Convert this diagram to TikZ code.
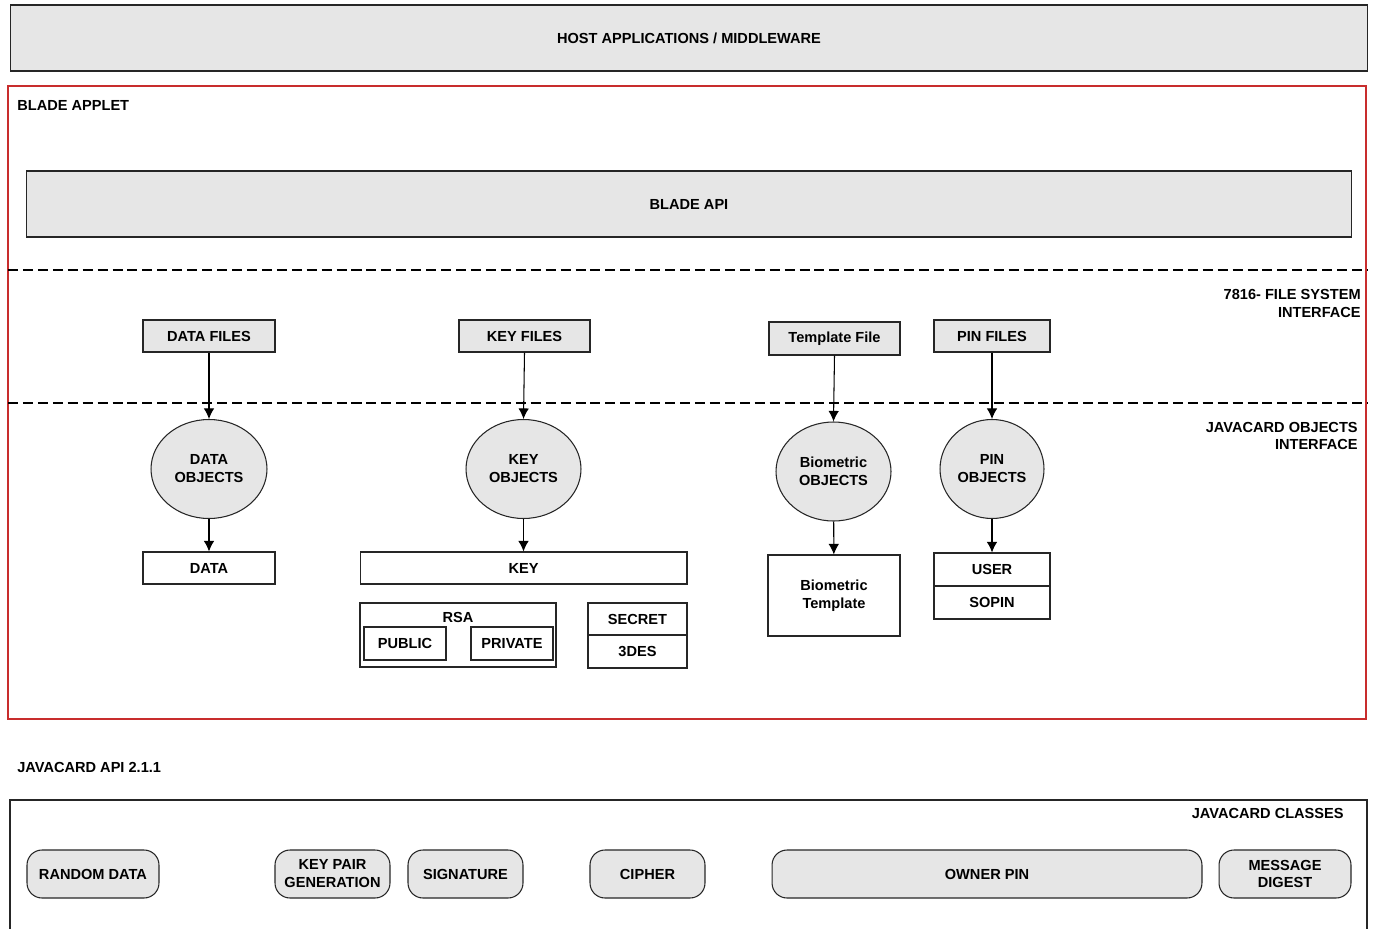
\documentclass[tikz,border=0pt]{standalone}
\usepackage{fontspec}
\setmainfont{Liberation Sans}
\usetikzlibrary{arrows.meta,shapes.geometric}
\definecolor{boxgray}{RGB}{230,230,230}
\definecolor{appletred}{RGB}{200,45,45}
\begin{document}
\begin{tikzpicture}[x=0.02cm,y=-0.02cm,
		every node/.style={font=\fontsize{8.3}{10.2}\selectfont\bfseries, align=center, inner sep=0pt},
		graybox/.style={draw=black!85, fill=boxgray, line width=0.6pt},
		plainbox/.style={draw=black!85, line width=0.6pt},
		objell/.style={ellipse, draw=black!85, fill=boxgray, line width=0.6pt, minimum height=1.98cm},
		classbox/.style={rounded corners=0.3cm, draw=black!85, fill=boxgray, line width=0.6pt, minimum height=0.96cm},
		link/.style={-{Latex[length=6pt,width=6pt]}, line width=0.6pt}]
			\useasboundingbox (0,0) rectangle (1375,929);
			% top layers
			\node[graybox, minimum width=27.16cm, minimum height=1.32cm] (host) at (689,38) {HOST APPLICATIONS / MIDDLEWARE};
			\draw[appletred, line width=0.6pt] (8,86) rectangle (1366,719);
			\node[anchor=west] (applet) at (17,105) {BLADE APPLET};
			\node[graybox, minimum width=26.52cm, minimum height=1.32cm] (api) at (689,204) {BLADE API};
			% interface lines
			\draw[dash pattern=on 5.7pt off 2.8pt, line width=0.6pt] (8,270) -- (1368,270);
			\draw[dash pattern=on 5.7pt off 2.8pt, line width=0.6pt] (8,403) -- (1368,403);
			\node[anchor=east, align=right] (fsif) at (1361,303.5) {7816- FILE SYSTEM\\INTERFACE};
			\node[anchor=east, align=right] (objif) at (1358,436) {JAVACARD OBJECTS\\INTERFACE};
			% files
			\node[graybox, minimum width=2.64cm, minimum height=0.64cm] (datafiles) at (209,336) {DATA FILES};
			\node[graybox, minimum width=2.62cm, minimum height=0.64cm] (keyfiles) at (524.5,336) {KEY FILES};
			\node[graybox, minimum width=2.62cm, minimum height=0.66cm] (tplfile) at (834.5,338.5) {Template File};
			\node[graybox, minimum width=2.32cm, minimum height=0.64cm] (pinfiles) at (992,336) {PIN FILES};
			% objects
			\node[objell, minimum width=2.32cm] (dataobj) at (209,469) {DATA\\OBJECTS};
			\node[objell, minimum width=2.30cm] (keyobj) at (523.5,469) {KEY\\OBJECTS};
			\node[objell, minimum width=2.30cm] (bioobj) at (833.5,471.5) {Biometric\\OBJECTS};
			\node[objell, minimum width=2.08cm] (pinobj) at (992,469) {PIN\\OBJECTS};
			% object contents
			\node[plainbox, minimum width=2.64cm, minimum height=0.64cm] (data) at (209,568) {DATA};
			\node[plainbox, minimum width=6.54cm, minimum height=0.64cm] (key) at (523.5,568) {KEY};
			\node[plainbox, minimum width=3.92cm, minimum height=1.28cm] (rsa) at (458,635) {};
			\node (rsalabel) at (458,617) {RSA};
			\node[plainbox, minimum width=1.64cm, minimum height=0.66cm] (public) at (405,643.5) {PUBLIC};
			\node[plainbox, minimum width=1.64cm, minimum height=0.66cm] (private) at (512,643.5) {PRIVATE};
			\node[plainbox, minimum width=1.98cm, minimum height=0.64cm] (secret) at (637.5,619) {SECRET};
			\node[plainbox, minimum width=1.98cm, minimum height=0.66cm] (tdes) at (637.5,651.5) {3DES};
			\node[plainbox, minimum width=2.64cm, minimum height=1.62cm] (biotpl) at (834,595.5) {Biometric\\Template};
			\node[plainbox, minimum width=2.32cm, minimum height=0.66cm] (user) at (992,569.5) {USER};
			\node[plainbox, minimum width=2.32cm, minimum height=0.66cm] (sopin) at (992,602.5) {SOPIN};
			% arrows
			\draw[link] (datafiles) -- (dataobj);
			\draw[link] (keyfiles.south) -- (keyobj.north);
			\draw[link] (tplfile.south) -- (bioobj.north);
			\draw[link] (pinfiles) -- (pinobj);
			\draw[link] (dataobj) -- (data);
			\draw[link] (keyobj) -- (key);
			\draw[link] (bioobj) -- (biotpl);
			\draw[link] (pinobj) -- (user);
			% javacard api
			\node[anchor=west] (jcapi) at (17,767) {JAVACARD API 2.1.1};
			\draw[black!85, line width=0.6pt] (10,929) -- (10,800) -- (1367,800) -- (1367,929);
			\node[anchor=east] (jcclasses) at (1344,813) {JAVACARD CLASSES};
			\node[classbox, minimum width=2.64cm] (random) at (93,874) {RANDOM DATA};
			\node[classbox, minimum width=2.30cm] (keypair) at (332.5,874) {KEY PAIR\\GENERATION};
			\node[classbox, minimum width=2.30cm] (signature) at (465.5,874) {SIGNATURE};
			\node[classbox, minimum width=2.30cm] (cipher) at (647.5,874) {CIPHER};
			\node[classbox, minimum width=8.60cm] (ownerpin) at (987,874) {OWNER PIN};
			\node[classbox, minimum width=2.64cm] (digest) at (1285,874) {MESSAGE\\DIGEST};
		\end{tikzpicture}
\end{document}
